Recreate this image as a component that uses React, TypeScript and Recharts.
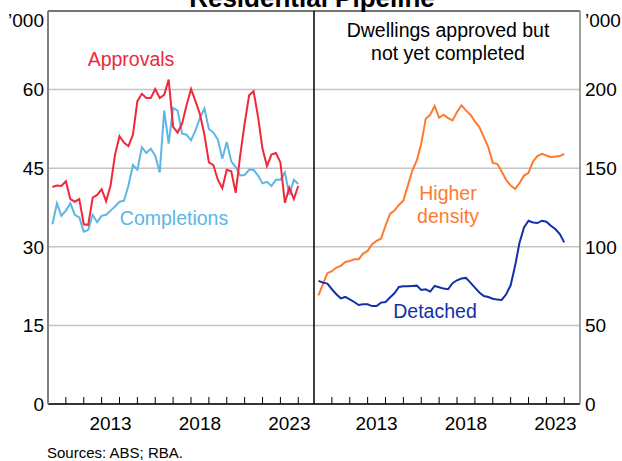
import React from 'react';
import { LineChart, Line, XAxis, YAxis, CartesianGrid, ReferenceLine } from 'recharts';

const FONT = "'Liberation Sans', Arial, Helvetica, sans-serif";

// quarterly observations, 2010 Q1 to 2023 Q4 ('000)
const FIRST_QUARTER = 2010.25;

const approvals = [
  41.4, 41.7, 41.6, 42.5, 39.1, 38.6, 39.1, 34.3, 34.2, 39.4, 39.9, 41.0, 38.7, 41.7,
  47.6, 51.1, 49.9, 49.2, 51.4, 57.8, 59.2, 58.4, 58.4, 60.1, 58.4, 59.0, 61.9, 52.9,
  51.8, 53.5, 57.0, 60.1, 57.8, 55.3, 51.4, 46.1, 45.6, 42.8, 41.2, 44.7, 44.4, 40.3,
  47.4, 53.5, 58.9, 59.7, 54.8, 48.7, 45.4, 47.6, 47.9, 46.1, 38.4, 41.3, 39.1, 41.6,
];

const completions = [
  34.3, 38.3, 35.9, 36.9, 38.3, 36.1, 35.6, 32.9, 33.2, 36.1, 34.7, 35.9, 36.1, 36.9,
  37.7, 38.6, 38.8, 41.7, 45.6, 44.7, 49.0, 47.9, 48.7, 47.4, 44.2, 56.0, 49.7, 56.5,
  56.0, 51.6, 51.4, 50.3, 52.2, 54.6, 56.4, 52.5, 51.8, 50.5, 46.8, 50.0, 46.3, 45.2,
  43.6, 43.7, 44.7, 44.7, 43.6, 42.1, 42.4, 41.6, 42.8, 42.8, 44.2, 39.9, 42.8, 42.0,
];

const higherDensity = [
  69.1, 76.2, 83.2, 84.5, 86.8, 87.9, 90.4, 90.9, 92.1, 92.1, 95.7, 97.4, 101.7, 103.8,
  105.3, 113.4, 120.9, 123.0, 126.6, 129.4, 138.9, 148.5, 154.9, 165.5, 181.5, 184.0, 189.6, 182.1,
  184.0, 181.9, 180.4, 185.7, 190.0, 186.8, 184.0, 179.8, 176.2, 169.8, 163.4, 153.4, 152.8, 147.9,
  142.6, 138.9, 136.8, 140.6, 145.3, 147.0, 154.3, 157.7, 159.1, 158.1, 157.0, 157.4, 157.7, 159.1,
];

const detached = [
  78.3, 77.2, 76.6, 73.0, 69.8, 67.2, 68.1, 66.6, 64.9, 63.0, 63.4, 63.4, 62.3, 62.3,
  64.5, 64.9, 67.7, 70.4, 74.5, 74.9, 74.9, 75.1, 75.3, 72.6, 73.0, 71.5, 75.1, 74.3,
  73.4, 73.0, 76.8, 78.7, 79.8, 80.2, 77.2, 74.0, 70.9, 68.7, 68.1, 67.0, 66.4, 66.2,
  69.8, 75.5, 87.9, 102.8, 112.3, 116.6, 115.5, 115.1, 116.6, 116.0, 113.4, 111.3, 108.1, 102.8,
];

const yearTicks = [2011, 2012, 2013, 2014, 2015, 2016, 2017, 2018, 2019, 2020, 2021, 2022, 2023, 2024];
const labelYears = [2013, 2018, 2023];
const leftTicks = [0, 15, 30, 45, 60];
const rightTicks = [0, 50, 100, 150, 200];

const X_DOMAIN: [number, number] = [2010, 2024.88];
const PLOT_W = 266;
const HALF_YEAR_PX = PLOT_W / (X_DOMAIN[1] - X_DOMAIN[0]) / 2;

const leftData = approvals.map((v, i) => ({
  t: FIRST_QUARTER + i * 0.25,
  approvals: v,
  completions: completions[i],
}));

const rightData = higherDensity.map((v, i) => ({
  t: FIRST_QUARTER + i * 0.25,
  higher: v,
  detached: detached[i],
}));

// tick marks point up into the panel, year labels sit in the middle of the year
const YearTick = (props: any) => {
  const { x, y, payload } = props;
  const yr = payload.value;
  return (
    <g>
      <line x1={x} x2={x} y1={y} y2={y - 7} stroke="#000" strokeWidth={1} />
      {labelYears.includes(yr) && (
        <text x={x + HALF_YEAR_PX} y={y + 26} textAnchor="middle" fontSize={19} fontFamily={FONT} fill="#000">
          {yr}
        </text>
      )}
    </g>
  );
};

const axisTick = { fontSize: 19, fill: '#000', fontFamily: FONT };

export default function App() {
  return (
    <div style={{ position: 'absolute', left: 0, top: 0, width: 622, height: 461, background: '#fff', overflow: 'hidden', fontFamily: FONT }}>
      <div style={{ position: 'absolute', left: 0, top: 0 }}>
        <LineChart width={315} height={461} data={leftData} margin={{ top: 11, right: 1, bottom: 0, left: 0 }}>
          <CartesianGrid vertical={false} stroke="#c4c4c4" strokeWidth={1.5} />
          <XAxis
            dataKey="t"
            type="number"
            domain={X_DOMAIN}
            allowDataOverflow
            ticks={yearTicks}
            interval={0}
            tickSize={0}
            tickMargin={0}
            tickLine={false}
            tick={<YearTick />}
            height={57}
            axisLine={{ stroke: '#000', strokeWidth: 1.5 }}
          />
          <YAxis
            domain={[0, 75]}
            ticks={leftTicks}
            interval={0}
            width={48}
            tickLine={false}
            tickSize={0}
            tickMargin={4}
            tick={axisTick}
            axisLine={{ stroke: '#808080', strokeWidth: 2 }}
          />
          <ReferenceLine y={75} stroke="#555" strokeWidth={1.5} />
          <Line dataKey="completions" stroke="#5cb6e6" strokeWidth={2} dot={false} isAnimationActive={false} />
          <Line dataKey="approvals" stroke="#f0283c" strokeWidth={2} dot={false} isAnimationActive={false} />
        </LineChart>
      </div>

      <div style={{ position: 'absolute', left: 313, top: 0 }}>
        <LineChart width={309} height={461} data={rightData} margin={{ top: 11, right: 0, bottom: 0, left: 1 }}>
          <CartesianGrid vertical={false} stroke="#c4c4c4" strokeWidth={1.5} />
          <XAxis
            dataKey="t"
            type="number"
            domain={X_DOMAIN}
            allowDataOverflow
            ticks={yearTicks}
            interval={0}
            tickSize={0}
            tickMargin={0}
            tickLine={false}
            tick={<YearTick />}
            height={57}
            axisLine={{ stroke: '#000', strokeWidth: 1.5 }}
          />
          <YAxis
            orientation="right"
            domain={[0, 250]}
            ticks={rightTicks}
            interval={0}
            width={42}
            tickLine={false}
            tickSize={0}
            tickMargin={5}
            tick={axisTick}
            axisLine={{ stroke: '#808080', strokeWidth: 1.5 }}
          />
          <ReferenceLine y={250} stroke="#555" strokeWidth={1.5} />
          <ReferenceLine x={2010} stroke="#000" strokeWidth={1.5} />
          <Line dataKey="higher" stroke="#ff7a2f" strokeWidth={2} dot={false} isAnimationActive={false} />
          <Line dataKey="detached" stroke="#1330a8" strokeWidth={2} dot={false} isAnimationActive={false} />
        </LineChart>
      </div>

      <svg width={622} height={461} style={{ position: 'absolute', left: 0, top: 0, pointerEvents: 'none' }} fontFamily={FONT}>
        <text x={312} y={6.5} textAnchor="middle" fontSize={26} fontWeight="bold" fill="#000">Residential Pipeline</text>
        <text x={44} y={27} textAnchor="end" fontSize={19} fill="#000">’000</text>
        <text x={585} y={27} textAnchor="start" fontSize={19} fill="#000">’000</text>
        <text x={448} y={37} textAnchor="middle" fontSize={19.5} fill="#000">Dwellings approved but</text>
        <text x={448} y={60} textAnchor="middle" fontSize={19.5} fill="#000">not yet completed</text>
        <text x={131} y={66} textAnchor="middle" fontSize={19.5} fill="#f0283c">Approvals</text>
        <text x={174} y={225} textAnchor="middle" fontSize={19.5} fill="#5cb6e6">Completions</text>
        <text x={448} y={200} textAnchor="middle" fontSize={19.5} fill="#ff7a2f">Higher</text>
        <text x={448} y={223} textAnchor="middle" fontSize={19.5} fill="#ff7a2f">density</text>
        <text x={435} y={318} textAnchor="middle" fontSize={19.5} fill="#1330a8">Detached</text>
        <text x={47} y={458} textAnchor="start" fontSize={15} fill="#000">Sources: ABS; RBA.</text>
      </svg>
    </div>
  );
}
